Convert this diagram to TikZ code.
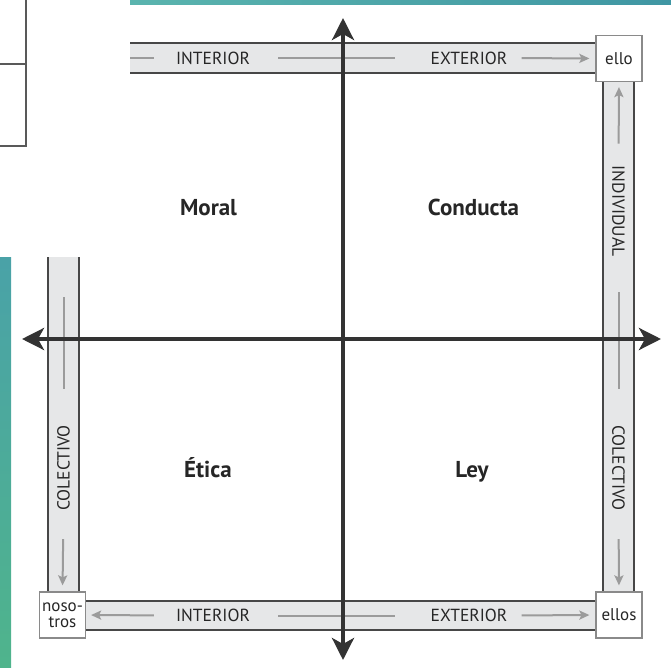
\documentclass[tikz,border=0pt]{standalone}
\usepackage{fontspec}
\setmainfont{PT Sans}
\usetikzlibrary{arrows.meta}
\tikzset{>=stealth}
\definecolor{axisgray}{HTML}{333333}
\definecolor{bandfill}{HTML}{E6E7E8}
\definecolor{bandedge}{HTML}{474747}
\definecolor{flowgray}{HTML}{9B9B9B}
\definecolor{boxedge}{HTML}{8A8A8A}
\definecolor{tealA}{HTML}{5AB4AE}
\definecolor{tealB}{HTML}{3F96A3}
\definecolor{greenA}{HTML}{4FB48C}

\begin{document}
\begin{tikzpicture}[x=1pt, y=-1pt,
  axis/.style={line width=4pt, draw=axisgray, {Stealth[length=22pt,width=22pt,inset=6pt]}-{Stealth[length=22pt,width=22pt,inset=6pt]}},
  bandline/.style={draw=bandedge, line width=2.5pt},
  flow/.style={draw=flowgray, line width=2pt},
  flowtip/.style={flow, -{Stealth[length=10pt,width=9pt,inset=2pt]}},
  lbl/.style={font=\fontsize{17.5}{17.5}\selectfont, text=black!85, inner sep=0pt},
  who/.style={draw=boxedge, line width=1.2pt, fill=white, minimum width=46pt, minimum height=46pt, inner sep=1pt, align=center, font=\fontsize{17}{16}\selectfont, text=black!85},
  quad/.style={font=\bfseries\fontsize{23}{23}\selectfont, text=black!85, anchor=base}]
\useasboundingbox (0,0) rectangle (671,668);
\shade[left color=tealA, right color=tealB] (130,0) rectangle (671,5);
\shade[top color=tealB!60!tealA, bottom color=greenA] (0,257) rectangle (11,668);
\draw[gray!70!black, line width=1.5pt] (0,64) -- (26,64);
\draw[gray!70!black, line width=1.5pt] (26,0) -- (26,146) -- (0,146);
% bands
\fill[bandfill] (130,43) rectangle (596,73);
\draw[bandline] (130,43) -- (596,43);
\draw[bandline] (130,73) -- (596,73);
\fill[bandfill] (603,82) rectangle (634,592);
\draw[bandline] (603,82) -- (603,592);
\draw[bandline] (634,82) -- (634,592);
\fill[bandfill] (85,601) rectangle (596,630);
\draw[bandline] (85,601) -- (596,601);
\draw[bandline] (85,630) -- (596,630);
\fill[bandfill] (48,257) rectangle (79,592);
\draw[bandline] (48,257) -- (48,592);
\draw[bandline] (79,257) -- (79,592);
\node[who] (ello) at (619,58.5) {ello};
\node[who] (ellos) at (619,615) {ellos};
\node[who] (nos) at (62.5,615) {noso-\\tros};
\node[lbl] (intT) at (213,58) {INTERIOR};
\node[lbl] (extT) at (469,58) {EXTERIOR};
\node[lbl] (intB) at (213,615.5) {INTERIOR};
\node[lbl] (extB) at (469,615.5) {EXTERIOR};
\node[lbl, rotate=-90] (indR) at (618.5,211) {INDIVIDUAL};
\node[lbl, rotate=-90] (colR) at (618.5,468) {COLECTIVO};
\node[lbl, rotate=90] (colL) at (63.5,468) {COLECTIVO};
\coordinate (bandT) at (130,58);
\coordinate (midL) at (63.5,297);
\draw[flow, shorten >=22pt] (bandT) -- (intT.west);
\draw[flow, shorten <=28pt, shorten >=36pt] (intT.east) -- (extT.west);
\draw[flowtip, shorten <=14pt, shorten >=6pt] (extT.east) -- (ello.west);
\draw[flowtip, shorten <=22pt, shorten >=5pt] (intB.west) -- (nos.east);
\draw[flow, shorten <=28pt, shorten >=36pt] (intB.east) -- (extB.west);
\draw[flowtip, shorten <=14pt, shorten >=6pt] (extB.east) -- (ellos.west);
\draw[flowtip, shorten <=22pt, shorten >=5pt] (indR.west) -- (ello.south);
\draw[flow, shorten <=36pt, shorten >=36pt] (indR.east) -- (colR.west);
\draw[flowtip, shorten <=28pt, shorten >=6pt] (colR.east) -- (ellos.north);
\draw[flow, shorten >=36pt] (midL) -- (colL.east);
\draw[flowtip, shorten <=28pt, shorten >=6pt] (colL.west) -- (nos.north);
% axes
\coordinate (up) at (343,18);
\coordinate (down) at (343,660);
\coordinate (west) at (22,339);
\coordinate (east) at (661,339);
\draw[axis] (up) -- (down);
\draw[axis] (west) -- (east);
\node[quad] (moral) at (208.5,216) {Moral};
\node[quad] (cond) at (473.5,216) {Conducta};
\node[quad] (etica) at (208,477) {Ética};
\node[quad] (ley) at (472,477) {Ley};
\end{tikzpicture}
\end{document}
